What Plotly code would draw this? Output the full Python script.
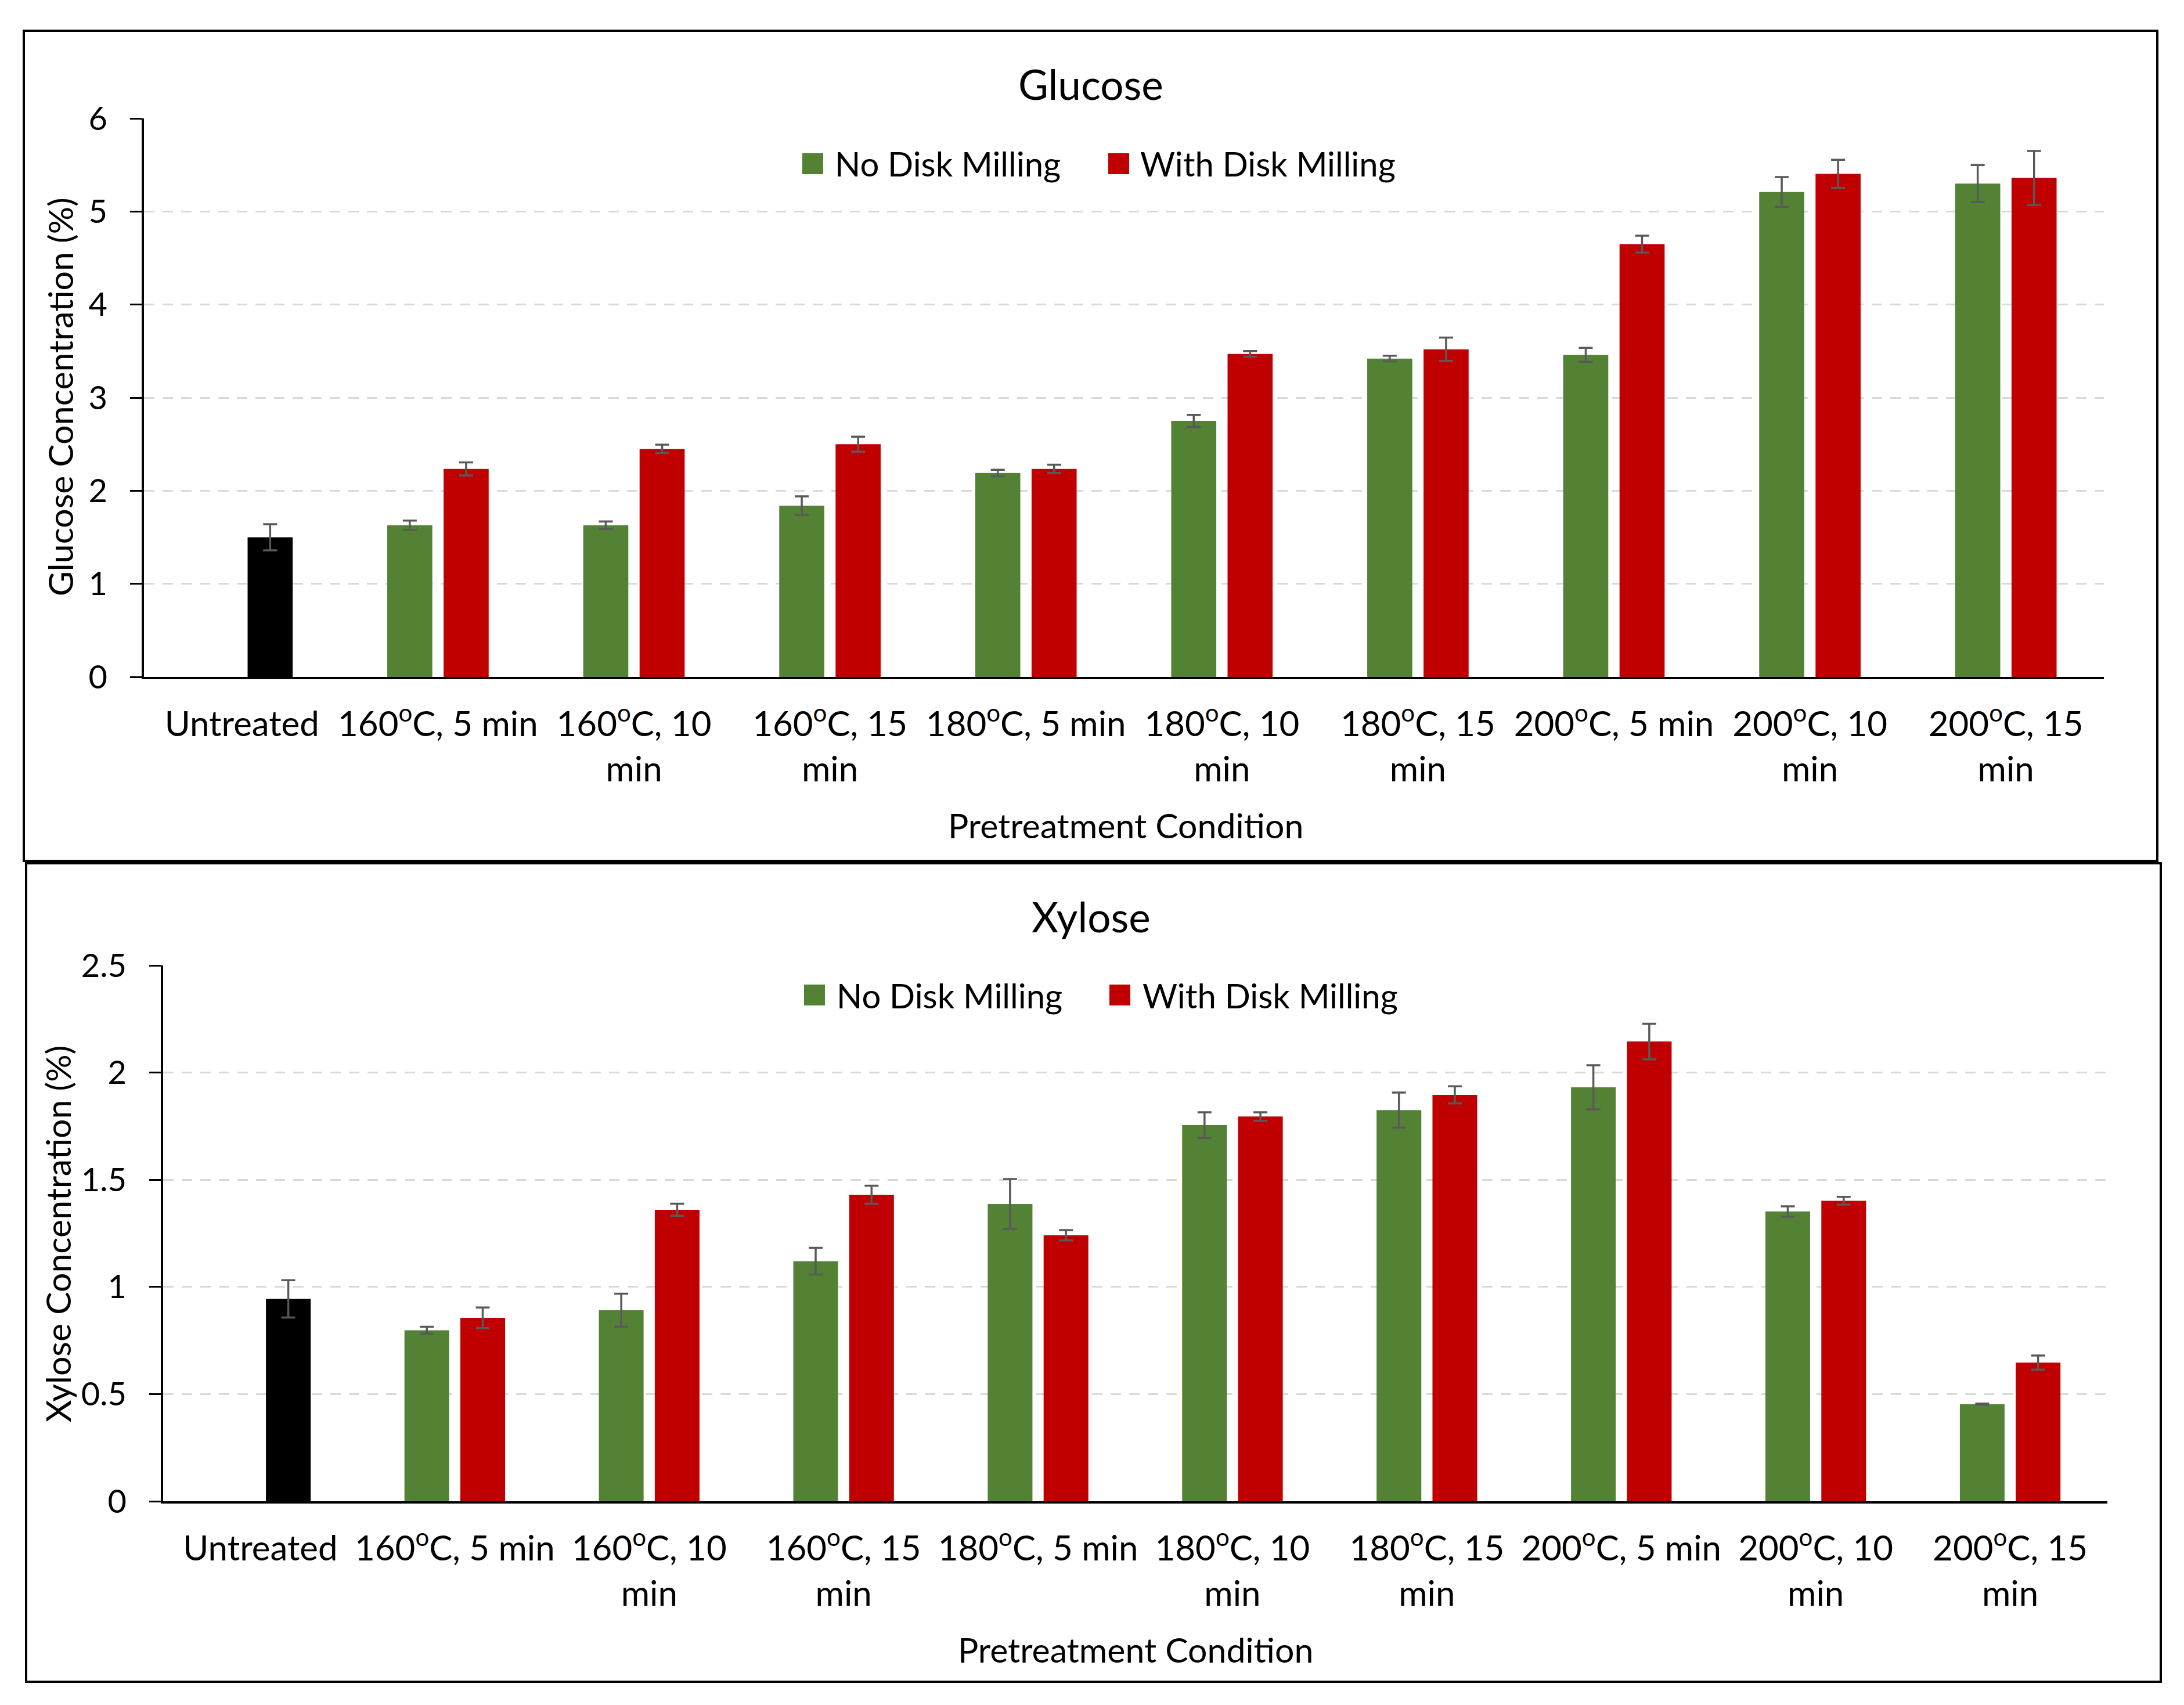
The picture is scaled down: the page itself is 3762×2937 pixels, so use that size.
import plotly.graph_objects as go

# ---------------- data ----------------
categories = [
    "Untreated",
    "160<sup>o</sup>C, 5 min",
    "160<sup>o</sup>C, 10<br>min",
    "160<sup>o</sup>C, 15<br>min",
    "180<sup>o</sup>C, 5 min",
    "180<sup>o</sup>C, 10<br>min",
    "180<sup>o</sup>C, 15<br>min",
    "200<sup>o</sup>C, 5 min",
    "200<sup>o</sup>C, 10<br>min",
    "200<sup>o</sup>C, 15<br>min",
]
untreated_cat = categories[:1]
treated_cats = categories[1:]

glucose_untreated = [1.50]
glucose_untreated_err = [0.14]
glucose_no_mill = [1.63, 1.63, 1.84, 2.19, 2.75, 3.42, 3.46, 5.21, 5.30]
glucose_no_mill_err = [0.05, 0.04, 0.10, 0.035, 0.065, 0.03, 0.075, 0.16, 0.20]
glucose_mill = [2.235, 2.45, 2.50, 2.235, 3.47, 3.52, 4.65, 5.405, 5.36]
glucose_mill_err = [0.07, 0.045, 0.08, 0.045, 0.03, 0.125, 0.09, 0.15, 0.29]

xylose_untreated = [0.944]
xylose_untreated_err = [0.087]
xylose_no_mill = [0.798, 0.891, 1.12, 1.387, 1.755, 1.825, 1.931, 1.352, 0.453]
xylose_no_mill_err = [0.016, 0.077, 0.062, 0.116, 0.06, 0.082, 0.103, 0.024, 0.003]
xylose_mill = [0.856, 1.36, 1.43, 1.241, 1.795, 1.896, 2.145, 1.402, 0.647]
xylose_mill_err = [0.048, 0.028, 0.042, 0.024, 0.02, 0.04, 0.083, 0.018, 0.033]

series_names = ["No Disk Milling", "With Disk Milling"]

# ---------------- style ----------------
W, H = 3762, 2937
GREEN = "#548235"
RED = "#C00000"
BLACK = "#000000"
ERR = "#595959"
FONT = "Lato"
TXT = "#000000"


def px_x(p):
    return p / W


def px_y(p):
    return 1 - p / H


def err(vals):
    return dict(type="data", array=vals, visible=True, color=ERR, thickness=3.5, width=12)


fig = go.Figure()

panels = [
    ("x", "y", glucose_untreated, glucose_untreated_err, glucose_no_mill, glucose_no_mill_err,
     glucose_mill, glucose_mill_err),
    ("x2", "y2", xylose_untreated, xylose_untreated_err, xylose_no_mill, xylose_no_mill_err,
     xylose_mill, xylose_mill_err),
]

for xa, ya, u, ue, g, ge, r, re_ in panels:
    fig.add_trace(go.Bar(x=treated_cats, y=g, error_y=err(ge), marker=dict(color=GREEN, line=dict(width=0)),
                         offsetgroup="a", xaxis=xa, yaxis=ya, showlegend=False, name=series_names[0]))
    fig.add_trace(go.Bar(x=untreated_cat, y=u, error_y=err(ue), marker=dict(color=BLACK, line=dict(width=0)),
                         offsetgroup="b", xaxis=xa, yaxis=ya, showlegend=False, name="Untreated"))
    fig.add_trace(go.Bar(x=treated_cats, y=r, error_y=err(re_), marker=dict(color=RED, line=dict(width=0)),
                         offsetgroup="b", xaxis=xa, yaxis=ya, showlegend=False, name=series_names[1]))

xaxis_common = dict(
    type="category", categoryorder="array", categoryarray=categories, automargin=False,
    showline=True, linecolor=BLACK, linewidth=4, ticks="", showgrid=False, zeroline=False,
    tickfont=dict(family=FONT, size=60, color=TXT), ticklabelstandoff=26, fixedrange=True,
)
yaxis_common = dict(
    automargin=False,
    showline=True, linecolor=BLACK, linewidth=3.5, ticks="outside", ticklen=20, tickwidth=3,
    tickcolor=BLACK, showgrid=True, gridcolor="#d9d9d9", gridwidth=3, griddash="18px,14px",
    zeroline=False, tickfont=dict(family=FONT, size=56, color=TXT), ticklabelstandoff=28,
)

fig.update_layout(
    width=W, height=H, autosize=False,
    margin=dict(l=0, r=0, t=0, b=0, pad=0),
    paper_bgcolor="white", plot_bgcolor="white",
    barmode="group", bargap=0.425, bargroupgap=0.2,
    showlegend=False,
    xaxis=dict(domain=[px_x(248), px_x(3624)], anchor="y", **xaxis_common),
    yaxis=dict(domain=[px_y(1166), px_y(204)], anchor="x", range=[0, 6], dtick=1, **yaxis_common),
    xaxis2=dict(domain=[px_x(281), px_x(3630)], anchor="y2", **xaxis_common),
    yaxis2=dict(domain=[px_y(2586), px_y(1663)], anchor="x2", range=[0, 2.5], dtick=0.5,
                tickformat="~g", **yaxis_common),
)

# panel borders
fig.add_shape(type="rect", xref="paper", yref="paper", x0=px_x(41), x1=px_x(3716), y0=px_y(1483), y1=px_y(53),
              line=dict(color=BLACK, width=4), layer="below")
fig.add_shape(type="rect", xref="paper", yref="paper", x0=px_x(45), x1=px_x(3722), y0=px_y(2897), y1=px_y(1487),
              line=dict(color=BLACK, width=4), layer="below")

ann = []
# titles
ann.append(dict(text="Glucose", x=px_x(1879), y=px_y(144), font=dict(family=FONT, size=71, color=TXT)))
ann.append(dict(text="Xylose", x=px_x(1879), y=px_y(1578), font=dict(family=FONT, size=71, color=TXT)))
# axis titles
ann.append(dict(text="Glucose Concentration (%)", x=px_x(103), y=px_y(684), textangle=-90,
                font=dict(family=FONT, size=59, color=TXT)))
ann.append(dict(text="Xylose Concentration (%)", x=px_x(99), y=px_y(2126), textangle=-90,
                font=dict(family=FONT, size=59, color=TXT)))
ann.append(dict(text="Pretreatment Condition", x=px_x(1939), y=px_y(1421),
                font=dict(family=FONT, size=59, color=TXT)))
ann.append(dict(text="Pretreatment Condition", x=px_x(1956), y=px_y(2841),
                font=dict(family=FONT, size=59, color=TXT)))

# legends (square swatches + labels)
legend_rows = [
    (282, [(1382, 1436, GREEN, series_names[0]), (1909, 1962, RED, series_names[1])]),
    (1714, [(1385, 1439, GREEN, series_names[0]), (1911, 1966, RED, series_names[1])]),
]
for yc, items in legend_rows:
    for sx, tx, col, name in items:
        fig.add_shape(type="rect", xref="paper", yref="paper", x0=px_x(sx), x1=px_x(sx + 36),
                      y0=px_y(yc + 18), y1=px_y(yc - 18), fillcolor=col, line=dict(width=0))
        ann.append(dict(text=name, x=px_x(tx), y=px_y(yc), xanchor="left",
                        font=dict(family=FONT, size=58, color=TXT)))

for a in ann:
    a.setdefault("xanchor", "center")
    a.update(xref="paper", yref="paper", showarrow=False, yanchor="middle")
    fig.add_annotation(**a)

fig.write_html("out.html", config={"displayModeBar": False},
               post_script="document.body.style.margin='0px';")
